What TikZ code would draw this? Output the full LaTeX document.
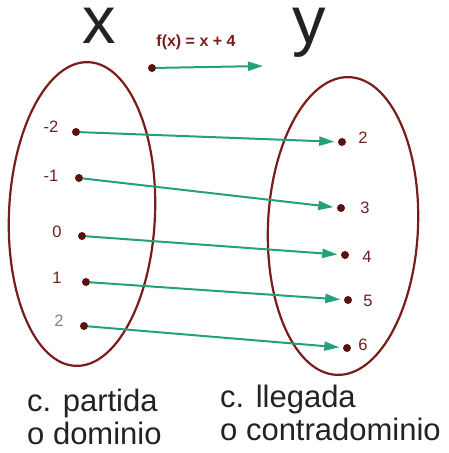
\documentclass[tikz,border=0pt]{standalone}
\usepackage{fontspec}
\setmainfont{Liberation Sans}
\usetikzlibrary{arrows.meta}
\definecolor{ered}{HTML}{7A1C1C}
\definecolor{dotred}{HTML}{5C1010}
\definecolor{lblred}{HTML}{6E1E1E}
\definecolor{arrgreen}{HTML}{23A07C}
\definecolor{txtgray}{HTML}{222222}
\begin{document}
\begin{tikzpicture}[x=1pt,y=-1pt,
  setline/.style={draw=ered,line width=2.2pt},
  pt/.style={circle,fill=dotred,inner sep=0pt,minimum size=8pt},
  num/.style={text=lblred,font=\fontsize{16.5}{16.5}\selectfont},
  maparrow/.style={draw=arrgreen,line width=2pt,-{Triangle[length=15pt,width=9pt]},shorten >=3.5pt},
  big/.style={text=txtgray,font=\fontsize{67}{67}\selectfont,anchor=base},
  caption/.style={text=txtgray,font=\fontsize{31}{33}\selectfont,align=left,anchor=north west,inner sep=0pt}]
\useasboundingbox (0,0) rectangle (448,453);
% sets
\draw[setline,rotate around={-2.5:(82,214)}] (82,214) ellipse [x radius=73pt,y radius=152pt];
\draw[setline,rotate around={-2.5:(343,226)}] (343,226) ellipse [x radius=75pt,y radius=149pt];
% titles
\node[big] (tx) at (99,43) {x};
\node[big] (ty) at (309,43) {y};
\node[text=ered,font=\bfseries\fontsize{16}{16}\selectfont] (f) at (196,42) {f(x) = x + 4};
\node[pt] (f0) at (152,68) {};
\coordinate (f1) at (263,66);
\draw[draw=arrgreen,line width=2pt,-{Triangle[length=15pt,width=9pt]}] (f0) -- (f1);
% domain
\node[pt] (a1) at (76,132) {};
\node[pt] (a2) at (79,178) {};
\node[pt] (a3) at (82,236) {};
\node[pt] (a4) at (86,282) {};
\node[pt] (a5) at (84,326) {};
\node[num] (la1) at (51,127) {-2};
\node[num] (la2) at (51,176) {-1};
\node[num] (la3) at (57,232) {0};
\node[num] (la4) at (57,278) {1};
\node[num,text=gray] (la5) at (59,321) {2};
% codomain
\node[pt] (b1) at (342,142) {};
\node[pt] (b2) at (341,208) {};
\node[pt] (b3) at (345,255) {};
\node[pt] (b4) at (348,300) {};
\node[pt] (b5) at (347,348) {};
\node[num] (lb1) at (363,138) {2};
\node[num] (lb2) at (365,208) {3};
\node[num] (lb3) at (367,257) {4};
\node[num] (lb4) at (368,301) {5};
\node[num] (lb5) at (363,345) {6};
% mapping
\draw[maparrow] (a1) -- (b1);
\draw[maparrow] (a2) -- (b2);
\draw[maparrow] (a3) -- (b3);
\draw[maparrow] (a4) -- (b4);
\draw[maparrow] (a5) -- (b5);
% captions
\node[caption] (cp) at (27,389) {c. partida\\o dominio};
\node[caption] (cl) at (220,385) {c. llegada\\o contradominio};
\end{tikzpicture}
\end{document}
